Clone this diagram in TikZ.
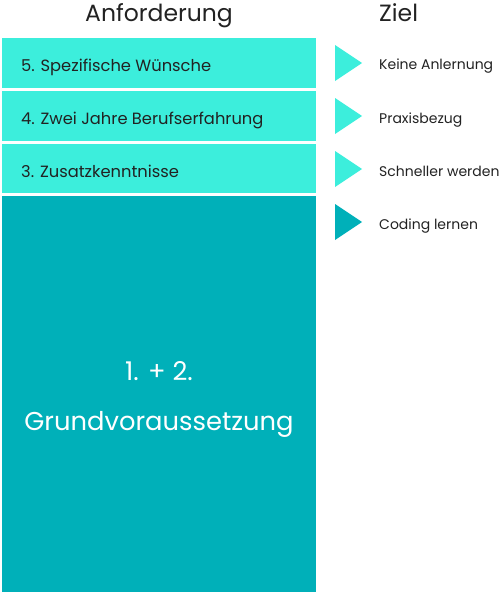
\documentclass[tikz,border=0pt]{standalone}
\usepackage{fontspec}
\setmainfont{Poppins}
\definecolor{lightc}{HTML}{3CEEDC}
\definecolor{darkc}{HTML}{00B0B9}
\definecolor{txt}{HTML}{222222}
\begin{document}
\begin{tikzpicture}[x=1pt,y=-1pt,
  reqbox/.style={fill=lightc,draw=none,minimum width=314pt,minimum height=50pt,anchor=north west,inner sep=0pt},
  reqtext/.style={anchor=base west,text=txt,font=\fontsize{16.3}{19}\selectfont,inner sep=0pt},
  goaltext/.style={anchor=base west,text=txt,font=\fontsize{14}{17}\selectfont,inner sep=0pt},
  head/.style={anchor=base,text=txt,font=\fontsize{23.5}{28}\selectfont,inner sep=0pt},
  bigtext/.style={anchor=base,text=white,font=\fontsize{25.8}{30}\selectfont,inner sep=0pt}]
\useasboundingbox (0,0) rectangle (500,594);
\node[head] (h1) at (159,22) {Anforderung};
\node[head,anchor=base west] (h2) at (379,22) {Ziel};
\node[reqbox] (b5) at (2,38) {};
\node[reqbox] (b4) at (2,91) {};
\node[reqbox,minimum height=49pt] (b3) at (2,144) {};
\node[reqbox,fill=darkc,minimum height=396pt] (b12) at (2,196) {};
\node[reqtext] (t5) at (21,71) {5. Spezifische Wünsche};
\node[reqtext] (t4) at (21,124) {4. Zwei Jahre Berufserfahrung};
\node[reqtext] (t3) at (21,177) {3. Zusatzkenntnisse};
\node[bigtext] (t12a) at (159,380) {1. + 2.};
\node[bigtext] (t12b) at (159,430) {Grundvoraussetzung};
\fill[lightc] (335,45) -- (362,63) -- (335,81) -- cycle;
\fill[lightc] (335,98) -- (362,116) -- (335,134) -- cycle;
\fill[lightc] (335,151) -- (362,169) -- (335,187) -- cycle;
\fill[darkc] (335,204) -- (362,222) -- (335,240) -- cycle;
\node[goaltext] (g5) at (379,70) {Keine Anlernung};
\node[goaltext] (g4) at (379,123) {Praxisbezug};
\node[goaltext] (g3) at (379,176) {Schneller werden};
\node[goaltext] (g12) at (379,229) {Coding lernen};
\end{tikzpicture}
\end{document}
